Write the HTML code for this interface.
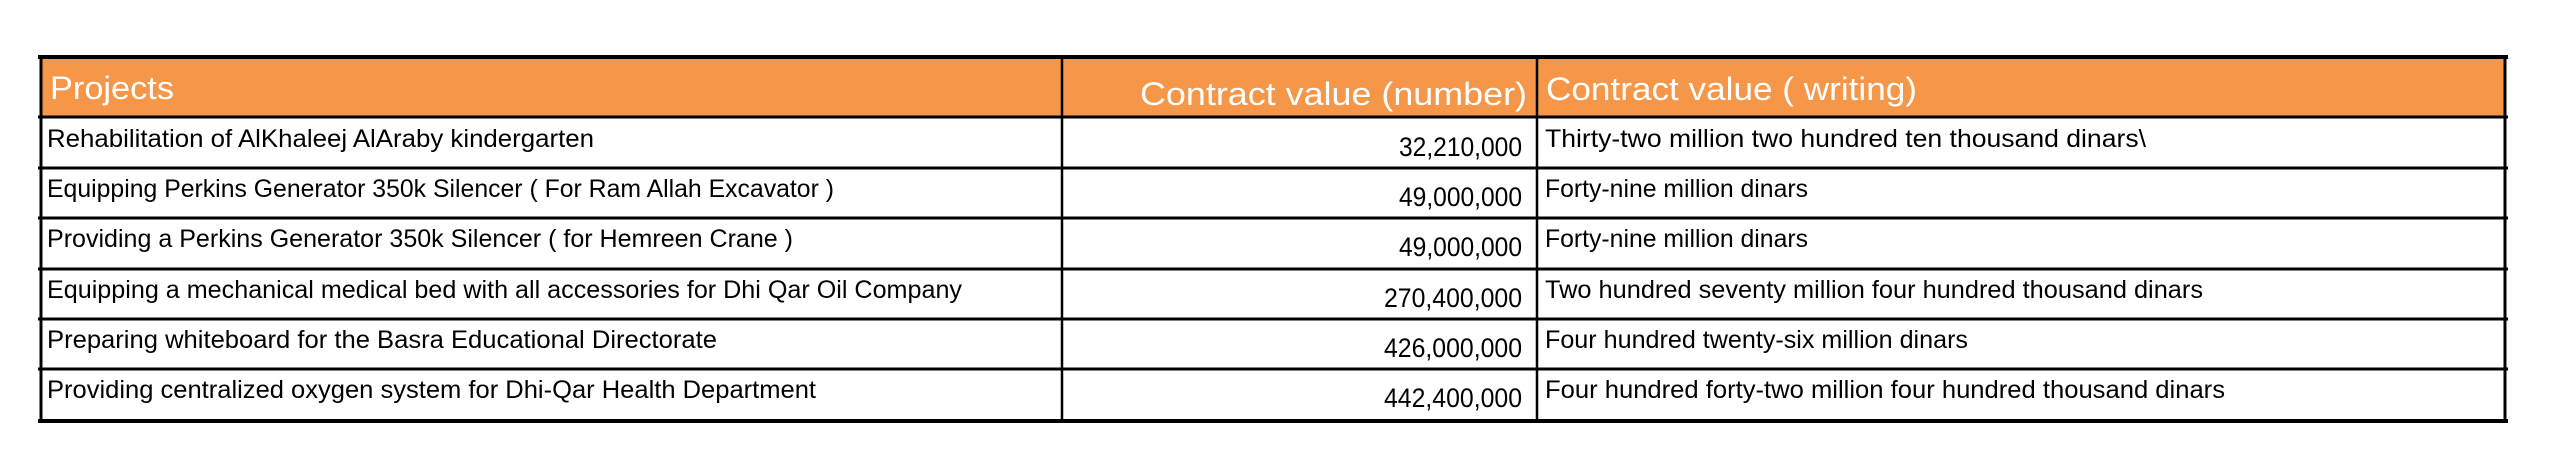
<!DOCTYPE html>
<html><head><meta charset="utf-8"><style>html,body{margin:0;padding:0;background:#fff;}svg{display:block;}</style></head>
<body>
<svg width="2550" height="474" xmlns="http://www.w3.org/2000/svg" font-family="'Liberation Sans Narrow','Liberation Sans',sans-serif">
<rect width="2550" height="474" fill="#fff"/>
<rect x="40" y="57" width="2466" height="60" fill="#F59648"/>
<g stroke="#000">
<line x1="38" y1="57" x2="2508" y2="57" stroke-width="4"/>
<line x1="38" y1="117" x2="2508" y2="117" stroke-width="3"/>
<line x1="38" y1="168" x2="2508" y2="168" stroke-width="3"/>
<line x1="38" y1="218" x2="2508" y2="218" stroke-width="3"/>
<line x1="38" y1="269" x2="2508" y2="269" stroke-width="3"/>
<line x1="38" y1="319" x2="2508" y2="319" stroke-width="3"/>
<line x1="38" y1="369" x2="2508" y2="369" stroke-width="3"/>
<line x1="38" y1="421" x2="2508" y2="421" stroke-width="4"/>
<line x1="41" y1="55" x2="41" y2="423" stroke-width="3"/>
<line x1="1062" y1="55" x2="1062" y2="423" stroke-width="2.5"/>
<line x1="1537" y1="55" x2="1537" y2="423" stroke-width="2.5"/>
<line x1="2505" y1="55" x2="2505" y2="423" stroke-width="3"/>
</g>
<g fill="#fff" font-size="32">
<text x="50" y="99" textLength="124" lengthAdjust="spacingAndGlyphs">Projects</text>
<text x="1140" y="105" textLength="387" lengthAdjust="spacingAndGlyphs">Contract value (number)</text>
<text x="1546" y="100" textLength="371" lengthAdjust="spacingAndGlyphs">Contract value ( writing)</text>
</g>
<g fill="#000" font-size="25">
<text x="47" y="147" textLength="547" lengthAdjust="spacingAndGlyphs">Rehabilitation of AlKhaleej AlAraby kindergarten</text>
<text x="47" y="197" textLength="787" lengthAdjust="spacingAndGlyphs">Equipping Perkins Generator 350k Silencer ( For Ram Allah Excavator )</text>
<text x="47" y="247" textLength="746" lengthAdjust="spacingAndGlyphs">Providing a Perkins Generator 350k Silencer ( for Hemreen Crane )</text>
<text x="47" y="298" textLength="915" lengthAdjust="spacingAndGlyphs">Equipping a mechanical medical bed with all accessories for Dhi Qar Oil Company</text>
<text x="47" y="348" textLength="670" lengthAdjust="spacingAndGlyphs">Preparing whiteboard for the Basra Educational Directorate</text>
<text x="47" y="398" textLength="769" lengthAdjust="spacingAndGlyphs">Providing centralized oxygen system for Dhi-Qar Health Department</text>
</g>
<g fill="#000" font-size="27">
<text x="1399" y="156" textLength="123" lengthAdjust="spacingAndGlyphs">32,210,000</text>
<text x="1399" y="206" textLength="123" lengthAdjust="spacingAndGlyphs">49,000,000</text>
<text x="1399" y="256" textLength="123" lengthAdjust="spacingAndGlyphs">49,000,000</text>
<text x="1384" y="307" textLength="138" lengthAdjust="spacingAndGlyphs">270,400,000</text>
<text x="1384" y="357" textLength="138" lengthAdjust="spacingAndGlyphs">426,000,000</text>
<text x="1384" y="407" textLength="138" lengthAdjust="spacingAndGlyphs">442,400,000</text>
</g>
<g fill="#000" font-size="25">
<text x="1545" y="147" textLength="601" lengthAdjust="spacingAndGlyphs">Thirty-two million two hundred  ten thousand dinars\</text>
<text x="1545" y="197" textLength="263" lengthAdjust="spacingAndGlyphs">Forty-nine million dinars</text>
<text x="1545" y="247" textLength="263" lengthAdjust="spacingAndGlyphs">Forty-nine million dinars</text>
<text x="1545" y="298" textLength="658" lengthAdjust="spacingAndGlyphs">Two hundred seventy million four hundred thousand dinars</text>
<text x="1545" y="348" textLength="423" lengthAdjust="spacingAndGlyphs">Four hundred twenty-six million dinars</text>
<text x="1545" y="398" textLength="680" lengthAdjust="spacingAndGlyphs">Four hundred forty-two million four hundred thousand dinars</text>
</g>
</svg>
</body></html>
